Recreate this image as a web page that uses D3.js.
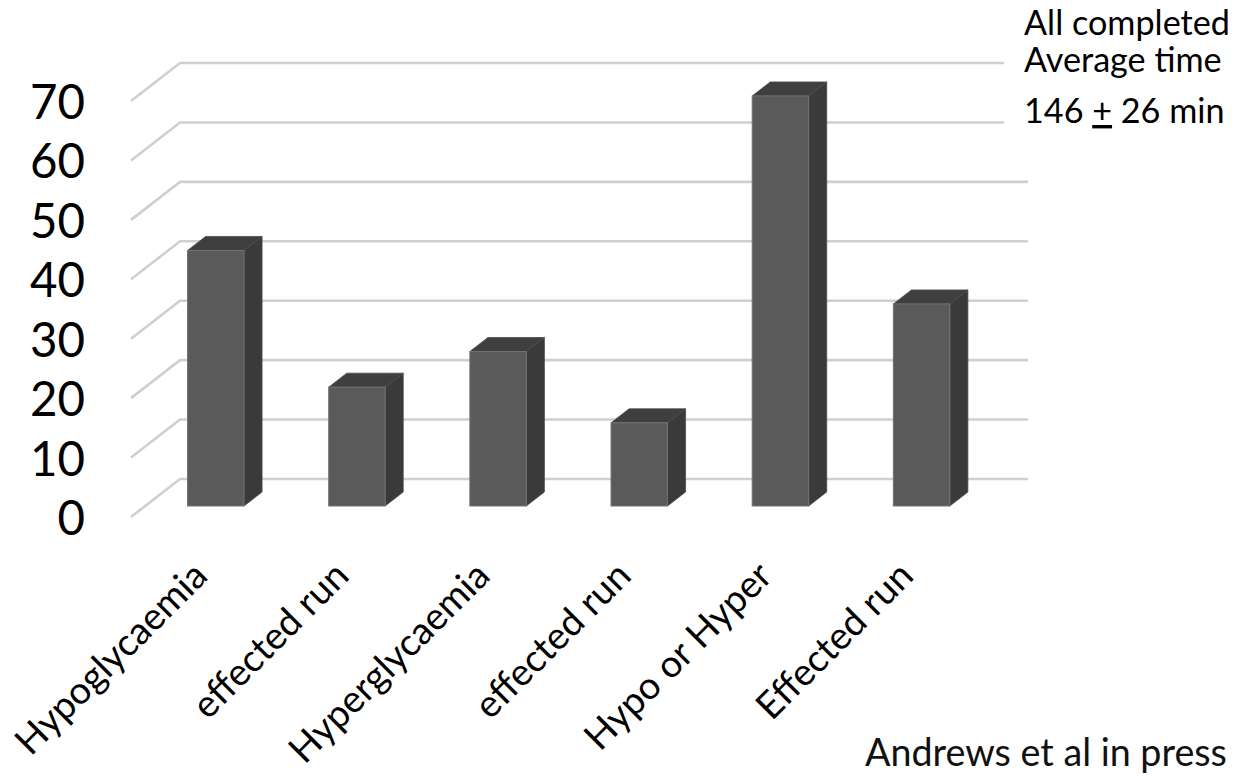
<!DOCTYPE html>
<html>
<head>
<meta charset="utf-8">
<script src="https://cdn.jsdelivr.net/npm/d3@7"></script>
<style>
  html, body { margin: 0; padding: 0; background: #fff; }
  svg { display: block; font-family: Lato, "Open Sans", sans-serif; }
</style>
</head>
<body>
<svg id="chart" width="1236" height="776"></svg>
<script>
// Category labels along the floor of the 3-D column chart
const categories = ["Hypoglycaemia", "effected run", "Hyperglycaemia", "effected run", "Hypo or Hyper", "Effected run"];
// Column heights
const values = [43, 20, 26, 14, 69, 34];
// Value-axis ticks
const yTicks = [0, 10, 20, 30, 40, 50, 60, 70];
// Note lines in the top-right corner
const noteLines = ["All completed", "Average time", "146 ± 26 min"];
const sourceNote = "Andrews et al in press";

const svg = d3.select("#chart");

// Back wall of the plot area
const wallLeft = 180, wallRight = 1027;
const y = d3.scaleLinear().domain([0, 70]).range([479, 63]);
const x = d3.scaleBand()
  .domain(d3.range(categories.length))
  .range([wallLeft, wallRight])
  .paddingInner(0.6)
  .paddingOuter(0.3);

// Oblique projection for depth (z = 0 at back wall, z = 1 at front edge of floor)
const depthDX = -49, depthDY = 38;
const off = z => [depthDX * z, depthDY * z];
const zFront = 27 / 38, zBack = 13 / 38;

// Fit a font size so that the sample string spans the given width
function fitSize(sample, width, weight) {
  const t = svg.append("text").attr("font-size", 100).attr("font-weight", weight || 400).text(sample);
  const w = t.node().getComputedTextLength();
  t.remove();
  return 100 * width / w;
}

// Gridlines: back wall plus the diagonal on the left side wall
const grid = svg.append("g").attr("fill", "none").attr("stroke", "#cfcfcf").attr("stroke-width", 2.6);
yTicks.forEach(t => {
  const [fx, fy] = off(1);
  grid.append("path").attr("d", d3.line()([
    [wallLeft + fx, y(t) + fy], [wallLeft, y(t)], [wallRight + 1, y(t)]
  ]));
});

// Columns
const bars = svg.append("g");
categories.forEach((c, i) => {
  const v = values[i];
  const xb = x(i), bw = x.bandwidth();
  const [fxo, fyo] = off(zFront);
  const [bxo, byo] = off(zBack);
  const x0 = xb + fxo, x1 = xb + bw + fxo;
  const xb1 = xb + bw + bxo, xb0 = xb + bxo;
  const topF = y(v) + fyo, botF = y(0) + fyo;
  const topB = y(v) + byo, botB = y(0) + byo;
  const g = bars.append("g");
  // side face
  g.append("path").attr("d", d3.line()([[x1, topF], [xb1, topB], [xb1, botB], [x1, botF]]) + "Z")
    .attr("fill", "#3a3a3a").attr("stroke", "#4a4a4a").attr("stroke-width", 0.8);
  // top face
  g.append("path").attr("d", d3.line()([[x0, topF], [xb0, topB], [xb1, topB], [x1, topF]]) + "Z")
    .attr("fill", "#3f3f3f").attr("stroke", "#4a4a4a").attr("stroke-width", 0.8);
  // front face
  g.append("rect").attr("x", x0).attr("y", topF).attr("width", x1 - x0).attr("height", botF - topF)
    .attr("fill", "#5a5a5a").attr("stroke", "#727272").attr("stroke-width", 1);
});

// Value axis labels
const yFont = fitSize("70", 55);
svg.append("g").selectAll("text").data(yTicks).join("text")
  .attr("x", 85)
  .attr("y", d => y(d) + off(1)[1] + 1)
  .attr("dy", "0.36em")
  .attr("text-anchor", "end")
  .attr("font-size", yFont)
  .attr("fill", "#000")
  .text(d => d);

// Category labels, rotated -45°
const xFont = fitSize("Hyperglycaemia", 265);
svg.append("g").selectAll("text").data(categories).join("text")
  .attr("transform", (d, i) => {
    const cx = x(i) + x.bandwidth() / 2 + depthDX;
    return `translate(${cx + 8},${578}) rotate(-45)`;
  })
  .attr("text-anchor", "end")
  .attr("font-size", xFont)
  .attr("fill", "#000")
  .text(d => d);

// Note box in the top-right corner (white background hides the wall lines)
svg.append("rect").attr("x", 1004).attr("y", 0).attr("width", 232).attr("height", 150).attr("fill", "#fff");
const noteFont = fitSize(noteLines[0], 206);
const noteBase = [35, 72, 123];
const note = svg.append("g").attr("font-size", noteFont).attr("fill", "#000");
noteLines.forEach((line, i) => {
  const t = note.append("text").attr("x", 1024).attr("y", noteBase[i]);
  if (line.includes("±")) {
    const [a, b] = line.split("±");
    t.append("tspan").text(a);
    t.append("tspan").attr("text-decoration", "underline").text("+");
    t.append("tspan").text(b);
  } else {
    t.text(line);
  }
});

// Source note
const srcFont = fitSize(sourceNote, 362);
svg.append("text").attr("x", 865).attr("y", 766).attr("font-size", srcFont).attr("fill", "#111").text(sourceNote);
</script>
</body>
</html>
